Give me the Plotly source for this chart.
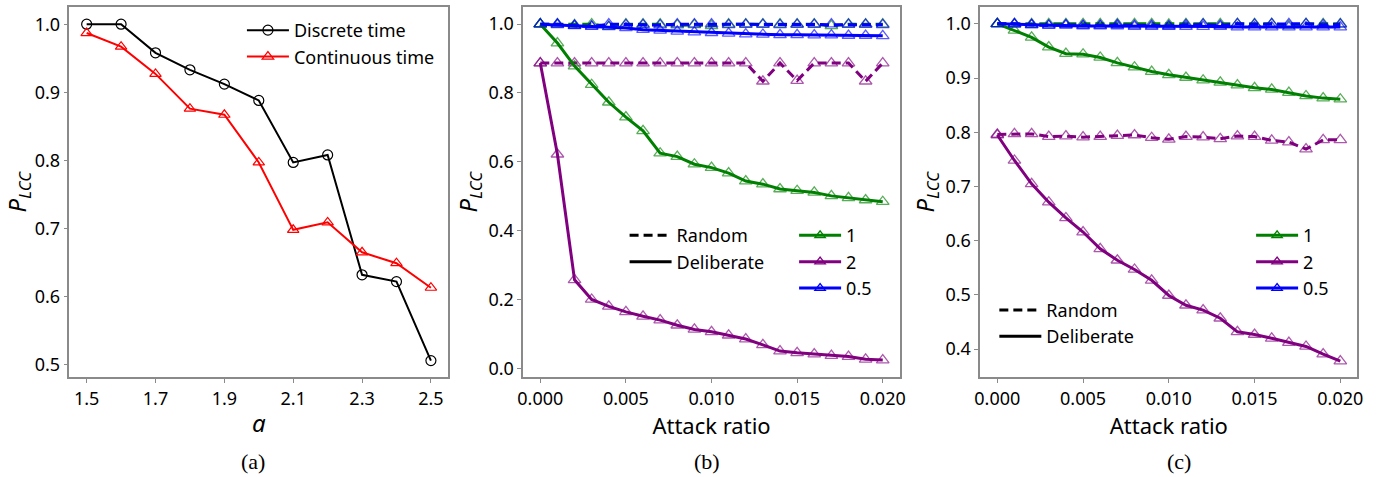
import plotly.graph_objects as go

# ---- Panel (a) data ----
a_vals = [1.5, 1.6, 1.7, 1.8, 1.9, 2.0, 2.1, 2.2, 2.3, 2.4, 2.5]
discrete_time = [1.0, 1.0, 0.958, 0.933, 0.912, 0.888, 0.797, 0.808, 0.632, 0.622, 0.506]
continuous_time = [0.987, 0.967, 0.927, 0.876, 0.867, 0.797, 0.698, 0.709, 0.665, 0.649, 0.613]
a_ticks = [1.5, 1.7, 1.9, 2.1, 2.3, 2.5]

# ---- Attack ratio (b, c) ----
attack_ratio = [0.000, 0.001, 0.002, 0.003, 0.004, 0.005, 0.006, 0.007, 0.008, 0.009, 0.010,
                0.011, 0.012, 0.013, 0.014, 0.015, 0.016, 0.017, 0.018, 0.019, 0.020]
attack_ticks = [0.000, 0.005, 0.010, 0.015, 0.020]

# Panel (b)
b_del_1 = [1.0, 0.945, 0.878, 0.824, 0.773, 0.730, 0.690, 0.625, 0.615, 0.593, 0.583,
           0.567, 0.544, 0.535, 0.521, 0.516, 0.511, 0.501, 0.495, 0.489, 0.484]
b_del_2 = [0.887, 0.622, 0.257, 0.200, 0.180, 0.164, 0.151, 0.140, 0.125, 0.113, 0.106,
           0.096, 0.085, 0.068, 0.050, 0.045, 0.041, 0.037, 0.034, 0.026, 0.024]
b_del_05 = [1.0, 0.998, 0.996, 0.994, 0.992, 0.989, 0.984, 0.982, 0.979, 0.977, 0.975,
            0.973, 0.971, 0.970, 0.969, 0.969, 0.968, 0.968, 0.967, 0.967, 0.966]
b_rnd_1 = [1.0, 1.0, 0.998, 1.0, 0.993, 1.0, 1.0, 1.0, 0.997, 0.998, 0.995,
           1.0, 1.0, 1.0, 1.0, 1.0, 1.0, 0.995, 1.0, 1.0, 1.0]
b_rnd_2 = [0.887, 0.887, 0.887, 0.887, 0.887, 0.887, 0.887, 0.887, 0.887, 0.887, 0.887,
           0.887, 0.887, 0.834, 0.887, 0.836, 0.887, 0.887, 0.887, 0.834, 0.887]
b_rnd_05 = [1.0, 1.0, 0.995, 0.993, 1.0, 0.998, 0.998, 0.997, 1.0, 1.0, 1.0,
            0.998, 0.999, 0.999, 0.998, 0.999, 0.999, 1.0, 0.999, 0.999, 0.998]

# Panel (c)
c_del_1 = [1.0, 0.988, 0.975, 0.957, 0.945, 0.944, 0.938, 0.928, 0.920, 0.912, 0.906,
           0.901, 0.896, 0.892, 0.887, 0.882, 0.879, 0.873, 0.867, 0.863, 0.861]
c_del_2 = [0.795, 0.748, 0.705, 0.671, 0.642, 0.616, 0.585, 0.564, 0.547, 0.527, 0.499,
           0.481, 0.472, 0.457, 0.432, 0.427, 0.420, 0.412, 0.405, 0.391, 0.378]
c_del_05 = [1.0, 0.999, 0.998, 0.997, 0.997, 0.996, 0.996, 0.996, 0.995, 0.995, 0.995,
            0.995, 0.995, 0.995, 0.994, 0.994, 0.994, 0.994, 0.994, 0.994, 0.994]
c_rnd_1 = [1.0, 1.0, 1.0, 1.0, 1.0, 1.0, 1.0, 1.0, 1.0, 1.0, 0.999,
           1.0, 1.0, 1.0, 1.0, 1.0, 1.0, 0.997, 1.0, 1.0, 1.0]
c_rnd_2 = [0.796, 0.797, 0.797, 0.792, 0.793, 0.791, 0.792, 0.794, 0.795, 0.790, 0.787,
           0.792, 0.791, 0.788, 0.793, 0.792, 0.785, 0.782, 0.769, 0.786, 0.786]
c_rnd_05 = [1.0, 1.0, 0.998, 0.997, 0.998, 0.997, 0.997, 0.998, 0.997, 0.997, 0.996,
            0.998, 0.999, 0.997, 1.0, 0.999, 1.0, 1.0, 1.0, 0.998, 0.999]

alpha_labels = ["1", "2", "0.5"]
alpha_colors = ["green", "purple", "blue"]
marker_colors = ["rgba(0,128,0,0.65)", "rgba(128,0,128,0.65)", "rgba(0,0,255,0.65)"]

FONT = "Noto Sans"
SPINE = "#8a8a8a"

fig = go.Figure()

# Panel (a)
fig.add_trace(go.Scatter(x=a_vals, y=discrete_time, mode="lines+markers", name="Discrete time",
                         line=dict(color="black", width=2),
                         marker=dict(symbol="circle-open", size=10, color="black", line=dict(width=1.2)),
                         xaxis="x", yaxis="y", legend="legend"))
fig.add_trace(go.Scatter(x=a_vals, y=continuous_time, mode="lines+markers", name="Continuous time",
                         line=dict(color="red", width=2),
                         marker=dict(symbol="triangle-up-open", size=10, color="red", line=dict(width=1.2)),
                         xaxis="x", yaxis="y", legend="legend"))


def add_panel(xa, ya, rnd, dele, style_leg, color_leg):
    for i in range(3):
        fig.add_trace(go.Scatter(x=attack_ratio, y=rnd[i], mode="lines+markers", showlegend=False,
                                 line=dict(color=alpha_colors[i], width=3, dash="9px,5px"),
                                 marker=dict(symbol="triangle-up-open", size=11, color=marker_colors[i],
                                             line=dict(width=1.3)),
                                 xaxis=xa, yaxis=ya))
    for i in range(3):
        fig.add_trace(go.Scatter(x=attack_ratio, y=dele[i], mode="lines+markers", showlegend=False,
                                 line=dict(color=alpha_colors[i], width=3),
                                 marker=dict(symbol="triangle-up-open", size=11, color=marker_colors[i],
                                             line=dict(width=1.3)),
                                 xaxis=xa, yaxis=ya))
    # legend entries
    fig.add_trace(go.Scatter(x=[None], y=[None], mode="lines", name="Random",
                             line=dict(color="black", width=3, dash="9px,5px"),
                             xaxis=xa, yaxis=ya, legend=style_leg))
    fig.add_trace(go.Scatter(x=[None], y=[None], mode="lines", name="Deliberate",
                             line=dict(color="black", width=3),
                             xaxis=xa, yaxis=ya, legend=style_leg))
    for i in range(3):
        fig.add_trace(go.Scatter(x=[None], y=[None], mode="lines+markers", name=alpha_labels[i],
                                 line=dict(color=alpha_colors[i], width=3),
                                 marker=dict(symbol="triangle-up-open", size=9, color=alpha_colors[i],
                                             line=dict(width=1.3)),
                                 xaxis=xa, yaxis=ya, legend=color_leg))


add_panel("x2", "y2", [b_rnd_1, b_rnd_2, b_rnd_05], [b_del_1, b_del_2, b_del_05], "legend2", "legend3")
add_panel("x3", "y3", [c_rnd_1, c_rnd_2, c_rnd_05], [c_del_1, c_del_2, c_del_05], "legend4", "legend5")

W, H = 1382, 477
ydom = [1 - 379 / H, 1 - 7 / H]

axis_common = dict(showline=True, mirror=True, linecolor=SPINE, linewidth=1.5, ticks="outside",
                   ticklen=4, tickcolor=SPINE, tickwidth=1, showgrid=False, zeroline=False,
                   tickfont=dict(family=FONT, size=18, color="black"))

ylab = "<i>P</i><sub><i>LCC</i></sub>"

fig.update_layout(
    width=W, height=H, margin=dict(l=0, r=0, t=0, b=0),
    paper_bgcolor="white", plot_bgcolor="white",
    font=dict(family=FONT, color="black"),
    xaxis=dict(domain=[64 / W, 446 / W], range=[1.45, 2.55], tickvals=a_ticks, ticktext=["1.5", "1.7", "1.9", "2.1", "2.3", "2.5"],
               title=dict(text="<i>a</i>", font=dict(family=FONT, size=24), standoff=6), anchor="y", **axis_common),
    yaxis=dict(domain=ydom, range=[0.4813, 1.0253], tickvals=[0.5, 0.6, 0.7, 0.8, 0.9, 1.0],
               ticktext=["0.5", "0.6", "0.7", "0.8", "0.9", "1.0"],
               title=dict(text=ylab, font=dict(family=FONT, size=24), standoff=4), anchor="x", **axis_common),
    xaxis2=dict(domain=[521.7 / W, 901.7 / W], range=[-0.001, 0.021], tickvals=attack_ticks,
                ticktext=["0.000", "0.005", "0.010", "0.015", "0.020"],
                title=dict(text="Attack ratio", font=dict(family=FONT, size=22), standoff=6), anchor="y2", **axis_common),
    yaxis2=dict(domain=ydom, range=[-0.0265, 1.0499], tickvals=[0.0, 0.2, 0.4, 0.6, 0.8, 1.0],
                ticktext=["0.0", "0.2", "0.4", "0.6", "0.8", "1.0"],
                title=dict(text=ylab, font=dict(family=FONT, size=24), standoff=4), anchor="x2", **axis_common),
    xaxis3=dict(domain=[982.7 / W, 1363.3 / W], range=[-0.001, 0.021], tickvals=attack_ticks,
                ticktext=["0.000", "0.005", "0.010", "0.015", "0.020"],
                title=dict(text="Attack ratio", font=dict(family=FONT, size=22), standoff=6), anchor="y3", **axis_common),
    yaxis3=dict(domain=ydom, range=[0.3479, 1.0311], tickvals=[0.4, 0.5, 0.6, 0.7, 0.8, 0.9, 1.0],
                ticktext=["0.4", "0.5", "0.6", "0.7", "0.8", "0.9", "1.0"],
                title=dict(text=ylab, font=dict(family=FONT, size=24), standoff=4), anchor="x3", **axis_common),
)

leg_common = dict(bgcolor="rgba(0,0,0,0)", borderwidth=0, font=dict(family=FONT, size=18, color="black"),
                  xanchor="left", yanchor="top", tracegroupgap=0, itemwidth=42)
fig.update_layout(
    legend=dict(x=238 / W, y=1 - 12 / H, **leg_common),
    legend2=dict(x=624 / W, y=1 - 218 / H, **leg_common),
    legend3=dict(x=795 / W, y=1 - 218 / H, **leg_common),
    legend4=dict(x=997 / W, y=1 - 293 / H, **leg_common),
    legend5=dict(x=1256 / W, y=1 - 218 / H, **leg_common),
)

captions = ["(a)", "(b)", "(c)"]
cap_x = [249.5, 707, 1183]
for t, cx in zip(captions, cap_x):
    fig.add_annotation(text=t, x=cx / W, y=1 - 463 / H, xref="paper", yref="paper", showarrow=False,
                       xanchor="center", yanchor="middle", font=dict(family="Liberation Serif", size=22, color="black"))

fig.write_html("out.html")
